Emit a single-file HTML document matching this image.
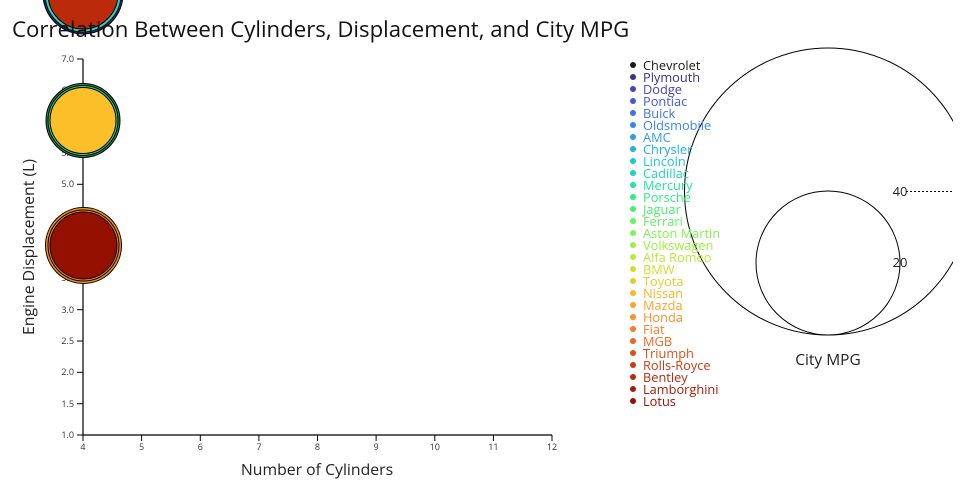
<!DOCTYPE html>
<html><head><meta charset="utf-8"><style>
body{margin:0;background:#fff;}
svg{display:block;font-family:"Open Sans","Liberation Sans",sans-serif;}
</style></head><body>
<svg width="960" height="500" viewBox="0 0 960 500">
<defs><clipPath id="c"><rect x="600" y="0" width="353" height="500"/></clipPath></defs>
<!-- top bubble -->
<circle cx="83" cy="-6" r="40" fill="#2a2a7a" stroke="#000" stroke-width="1"/>
<circle cx="83" cy="-6" r="38" fill="#2dd4bf" stroke="#000" stroke-width="1"/>
<circle cx="83" cy="-6" r="35" fill="#bb2a0a" stroke="#000" stroke-width="1"/>
<text x="12" y="37" font-size="22.2" fill="#111">Correlation Between Cylinders, Displacement, and City MPG</text>
<!-- axes -->
<g stroke="#000" stroke-width="1.2" fill="none">
<line x1="83" y1="59" x2="83" y2="435"/>
<line x1="83" y1="435" x2="552" y2="435"/>
</g>
<g stroke="#000" stroke-width="1">
<line x1="77" y1="59" x2="83" y2="59"/><line x1="77" y1="90.3" x2="83" y2="90.3"/><line x1="77" y1="121.7" x2="83" y2="121.7"/><line x1="77" y1="153" x2="83" y2="153"/><line x1="77" y1="184.3" x2="83" y2="184.3"/><line x1="77" y1="215.7" x2="83" y2="215.7"/><line x1="77" y1="247" x2="83" y2="247"/><line x1="77" y1="278.3" x2="83" y2="278.3"/><line x1="77" y1="309.7" x2="83" y2="309.7"/><line x1="77" y1="341" x2="83" y2="341"/><line x1="77" y1="372.3" x2="83" y2="372.3"/><line x1="77" y1="403.7" x2="83" y2="403.7"/><line x1="77" y1="435" x2="83" y2="435"/>
<line x1="83" y1="435" x2="83" y2="441"/><line x1="141.6" y1="435" x2="141.6" y2="441"/><line x1="200.3" y1="435" x2="200.3" y2="441"/><line x1="258.9" y1="435" x2="258.9" y2="441"/><line x1="317.5" y1="435" x2="317.5" y2="441"/><line x1="376.1" y1="435" x2="376.1" y2="441"/><line x1="434.8" y1="435" x2="434.8" y2="441"/><line x1="493.4" y1="435" x2="493.4" y2="441"/><line x1="552" y1="435" x2="552" y2="441"/>
</g>
<g font-size="9" fill="#333" text-anchor="end">
<text x="74" y="62">7.0</text><text x="74" y="93">6.5</text><text x="74" y="125">6.0</text><text x="74" y="156">5.5</text><text x="74" y="187">5.0</text><text x="74" y="219">4.5</text><text x="74" y="250">4.0</text><text x="74" y="281">3.5</text><text x="74" y="313">3.0</text><text x="74" y="344">2.5</text><text x="74" y="375">2.0</text><text x="74" y="407">1.5</text><text x="74" y="438">1.0</text>
</g>
<g font-size="9" fill="#333" text-anchor="middle">
<text x="83" y="450">4</text><text x="141.6" y="450">5</text><text x="200.3" y="450">6</text><text x="258.9" y="450">7</text><text x="317.5" y="450">8</text><text x="376.1" y="450">9</text><text x="434.8" y="450">10</text><text x="493.4" y="450">11</text><text x="552" y="450">12</text>
</g>
<text x="317" y="475" font-size="15.8" fill="#222" text-anchor="middle">Number of Cylinders</text>
<text transform="translate(34,247) rotate(-90)" font-size="15.8" fill="#222" text-anchor="middle">Engine Displacement (L)</text>
<!-- bubbles -->
<circle cx="83" cy="120.5" r="37" fill="#1f8f55" stroke="#000" stroke-width="1"/>
<circle cx="83" cy="120.5" r="35" fill="#3ad07a" stroke="#000" stroke-width="1"/>
<circle cx="83" cy="120.5" r="33" fill="#fbbf2a" stroke="#000" stroke-width="1"/>
<circle cx="83.5" cy="245.5" r="38" fill="#f39020" stroke="#000" stroke-width="1"/>
<circle cx="83.5" cy="245.5" r="35.5" fill="#f39020" stroke="#000" stroke-width="1"/>
<circle cx="83.5" cy="245.5" r="33.5" fill="#941000" stroke="#000" stroke-width="1"/>
<!-- size legend -->
<g clip-path="url(#c)">
<circle cx="828" cy="191.5" r="143.5" fill="none" stroke="#000" stroke-width="1"/>
<line x1="906" y1="191.5" x2="960" y2="191.5" stroke="#000" stroke-dasharray="2,2"/>
</g>
<circle cx="828" cy="263" r="72" fill="none" stroke="#000" stroke-width="1"/>
<text x="900" y="196" font-size="13" fill="#222" text-anchor="middle">40</text>
<text x="900" y="267" font-size="13" fill="#222" text-anchor="middle">20</text>
<text x="828" y="365" font-size="15.5" fill="#222" text-anchor="middle">City MPG</text>
<!-- legend -->
<g font-size="12.8">
<circle cx="633" cy="65" r="3" fill="#1a1a1a"/><text x="643" y="70" fill="#1a1a1a">Chevrolet</text>
<circle cx="633" cy="77" r="3" fill="#3a2f8a"/><text x="643" y="82" fill="#3a2f8a">Plymouth</text>
<circle cx="633" cy="89" r="3" fill="#4a40c0"/><text x="643" y="94" fill="#4a40c0">Dodge</text>
<circle cx="633" cy="101" r="3" fill="#4a55e0"/><text x="643" y="106" fill="#4a55e0">Pontiac</text>
<circle cx="633" cy="113" r="3" fill="#4070f0"/><text x="643" y="118" fill="#4070f0">Buick</text>
<circle cx="633" cy="125" r="3" fill="#3585f5"/><text x="643" y="130" fill="#3585f5">Oldsmobile</text>
<circle cx="633" cy="137" r="3" fill="#2a9cf0"/><text x="643" y="142" fill="#2a9cf0">AMC</text>
<circle cx="633" cy="149" r="3" fill="#20b4e0"/><text x="643" y="154" fill="#20b4e0">Chrysler</text>
<circle cx="633" cy="161" r="3" fill="#1ac8d0"/><text x="643" y="166" fill="#1ac8d0">Lincoln</text>
<circle cx="633" cy="173" r="3" fill="#1ad8b8"/><text x="643" y="178" fill="#1ad8b8">Cadillac</text>
<circle cx="633" cy="185" r="3" fill="#20e4a0"/><text x="643" y="190" fill="#20e4a0">Mercury</text>
<circle cx="633" cy="197" r="3" fill="#30ec88"/><text x="643" y="202" fill="#30ec88">Porsche</text>
<circle cx="633" cy="209" r="3" fill="#45f070"/><text x="643" y="214" fill="#45f070">Jaguar</text>
<circle cx="633" cy="221" r="3" fill="#60f460"/><text x="643" y="226" fill="#60f460">Ferrari</text>
<circle cx="633" cy="233" r="3" fill="#80f450"/><text x="643" y="238" fill="#80f450">Aston Martin</text>
<circle cx="633" cy="245" r="3" fill="#a0f040"/><text x="643" y="250" fill="#a0f040">Volkswagen</text>
<circle cx="633" cy="257" r="3" fill="#bce838"/><text x="643" y="262" fill="#bce838">Alfa Romeo</text>
<circle cx="633" cy="269" r="3" fill="#d4dc30"/><text x="643" y="274" fill="#d4dc30">BMW</text>
<circle cx="633" cy="281" r="3" fill="#e8cc2a"/><text x="643" y="286" fill="#e8cc2a">Toyota</text>
<circle cx="633" cy="293" r="3" fill="#f8b828"/><text x="643" y="298" fill="#f8b828">Nissan</text>
<circle cx="633" cy="305" r="3" fill="#fca428"/><text x="643" y="310" fill="#fca428">Mazda</text>
<circle cx="633" cy="317" r="3" fill="#fc9028"/><text x="643" y="322" fill="#fc9028">Honda</text>
<circle cx="633" cy="329" r="3" fill="#f87c24"/><text x="643" y="334" fill="#f87c24">Fiat</text>
<circle cx="633" cy="341" r="3" fill="#f06420"/><text x="643" y="346" fill="#f06420">MGB</text>
<circle cx="633" cy="353" r="3" fill="#e04e18"/><text x="643" y="358" fill="#e04e18">Triumph</text>
<circle cx="633" cy="365" r="3" fill="#cc3a10"/><text x="643" y="370" fill="#cc3a10">Rolls-Royce</text>
<circle cx="633" cy="377" r="3" fill="#b82a0a"/><text x="643" y="382" fill="#b82a0a">Bentley</text>
<circle cx="633" cy="389" r="3" fill="#a41c06"/><text x="643" y="394" fill="#a41c06">Lamborghini</text>
<circle cx="633" cy="401" r="3" fill="#941000"/><text x="643" y="406" fill="#941000">Lotus</text>
</g>
</svg>
</body></html>
